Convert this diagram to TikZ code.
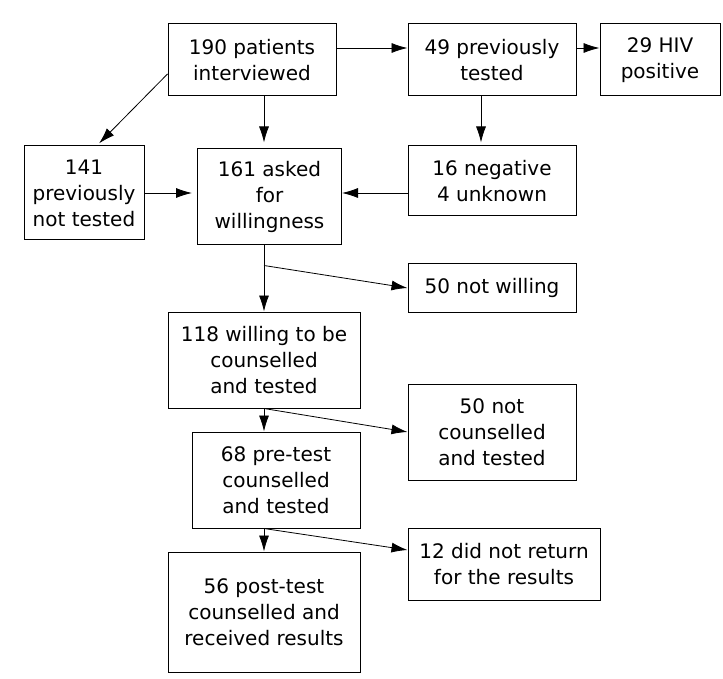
\documentclass[tikz,border=0pt]{standalone}
\usepackage{fontspec}
\setmainfont{DejaVu Sans}
\usepackage{tikz}
\usetikzlibrary{arrows.meta}
\tikzset{
		box/.style={draw, line width=1pt, align=center, inner sep=0pt, font=\fontsize{20}{26}\selectfont},
		wide box/.style={box, minimum width=168pt, minimum height=72pt}
	}

\begin{document}
\begin{tikzpicture}[x=1pt,y=-1pt,>={Latex[length=16pt,width=10pt]},line width=0.8pt]
				\useasboundingbox (0,0) rectangle (723,679);
				\node[wide box]                                        (n190) at (252,60)    {190 patients\\interviewed};
				\node[wide box]                                        (n49)  [right of = n190, node distance=240pt] {49 previously\\tested};
				\node[box, minimum width=120pt, minimum height=72pt]   (n29)  [right of = n49, node distance=168pt]  {29 HIV\\positive};
				\node[box, minimum width=168pt, minimum height=70pt]   (n16)  [below of = n49, node distance=121pt]  {16 negative\\4 unknown};
				\node[box, minimum width=168pt, minimum height=48pt]   (n50w) [below of = n16, node distance=107pt]  {50 not willing};
				\node[box, minimum width=120pt, minimum height=94pt]   (n141) at (84,193)    {141\\previously\\not tested};
				\node[box, minimum width=144pt, minimum height=96pt]   (n161) at (269.5,197) {161 asked\\for\\willingness};
				\node[box, minimum width=192pt, minimum height=96pt]   (n118) at (264,360)   {118 willing to be\\counselled\\and tested};
				\node[box, minimum width=168pt, minimum height=96pt]   (n50c) at (492,432)   {50 not\\counselled\\and tested};
				\node[box, minimum width=168pt, minimum height=96pt]   (n68)  at (276,480)   {68 pre-test\\counselled\\and tested};
				\node[box, minimum width=192pt, minimum height=72pt]   (n12)  at (504,564)   {12 did not return\\for the results};
				\node[box, minimum width=192pt, minimum height=120pt]  (n56)  at (264,612)   {56 post-test\\counselled and\\received results};

				\coordinate (b1) at ([yshift=-20pt]n161.south -| n118);

				\path[->] ([yshift=12pt]n190.east) edge ([yshift=12pt]n49.west);
				\path[->] ([yshift=12pt]n49.east) edge ([yshift=12pt]n29.west);
				\path[->] ([yshift=-14pt]n190.west) edge [shorten >=3pt] ([xshift=13pt]n141.north);
				\path[->] (n190.south -| n118) edge [shorten >=6pt] (n161.north -| n118);
				\path[->] ([xshift=-11pt]n49.south) edge [shorten >=3pt] ([xshift=-11pt]n16.north);
				\path[->] (n141.east) edge [shorten >=5pt] (n161.west |- n141.east);
				\path[->] (n16.west |- n141) edge (n161.east |- n141);
				\path[->] (n161.south -| n118) edge (n118.north);
				\path[->] (b1) edge (n50w.west);
				\path[->] (n118.south) edge (n68.north -| n118);
				\path[->] (n118.south) edge (n50c.west);
				\path[->] (n68.south -| n118) edge (n56.north);
				\path[->] (n68.south -| n118) edge ([yshift=14pt]n12.west);
			\end{tikzpicture}
\end{document}
